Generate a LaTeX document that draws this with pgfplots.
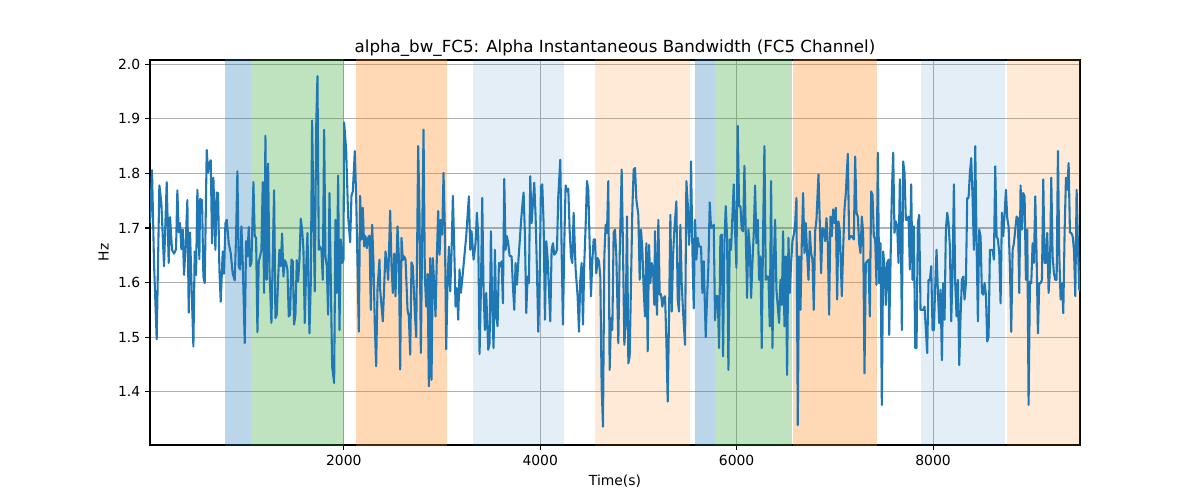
\documentclass[border=0pt]{standalone}
\usepackage{fontspec}
\setmainfont{DejaVu Sans}
\usepackage{pgfplots}
\pgfplotsset{compat=1.18}
\definecolor{tabblue}{HTML}{1F77B4}
\definecolor{tabgreen}{HTML}{2CA02C}
\definecolor{taborange}{HTML}{FF7F0E}
\definecolor{gridgray}{HTML}{B0B0B0}
\begin{document}
\begin{tikzpicture}
\path (0,0) rectangle (864pt,360pt);
\begin{axis}[
  at={(108pt,39.6pt)}, anchor=south west,
  scale only axis, width=669.6pt, height=277.2pt,
  xmin=27, xmax=9496, ymin=1.3025, ymax=2.0077,
  xtick={2000,4000,6000,8000},
  ytick={1.4,1.5,1.6,1.7,1.8,1.9,2.0},
  yticklabel style={/pgf/number format/fixed,/pgf/number format/fixed zerofill,/pgf/number format/precision=1},
  xticklabel style={/pgf/number format/1000 sep={}},
  /pgf/number format/assume math mode=true,
  tick label style={font=\fontsize{10}{12}\selectfont},
  label style={font=\fontsize{10}{12}\selectfont},
  title style={font=\fontsize{12}{14}\selectfont, yshift=-7pt},
  title={alpha\_bw\_FC5: Alpha Instantaneous Bandwidth (FC5 Channel)},
  xlabel={Time(s)}, ylabel={Hz},
  grid=major, major grid style={gridgray, line width=0.8pt},
  tick pos=left, tick align=outside, major tick length=3.5pt,
  tick style={black, line width=0.8pt},
  axis line style={black, line width=0.8pt},
  clip=true,
]
\addplot[draw=none, fill=tabblue, fill opacity=0.3] coordinates {(788,1.2) (1053,1.2) (1053,2.1) (788,2.1)} -- cycle;
\addplot[draw=none, fill=tabgreen, fill opacity=0.3] coordinates {(1053,1.2) (2000,1.2) (2000,2.1) (1053,2.1)} -- cycle;
\addplot[draw=none, fill=taborange, fill opacity=0.3] coordinates {(2129,1.2) (3053,1.2) (3053,2.1) (2129,2.1)} -- cycle;
\addplot[draw=none, fill=tabblue, fill opacity=0.12] coordinates {(3311,1.2) (4245,1.2) (4245,2.1) (3311,2.1)} -- cycle;
\addplot[draw=none, fill=taborange, fill opacity=0.16] coordinates {(4558,1.2) (5522,1.2) (5522,2.1) (4558,2.1)} -- cycle;
\addplot[draw=none, fill=tabblue, fill opacity=0.3] coordinates {(5573,1.2) (5780,1.2) (5780,2.1) (5573,2.1)} -- cycle;
\addplot[draw=none, fill=tabgreen, fill opacity=0.3] coordinates {(5780,1.2) (6568,1.2) (6568,2.1) (5780,2.1)} -- cycle;
\addplot[draw=none, fill=taborange, fill opacity=0.3] coordinates {(6578,1.2) (7424,1.2) (7424,2.1) (6578,2.1)} -- cycle;
\addplot[draw=none, fill=tabblue, fill opacity=0.12] coordinates {(7876,1.2) (8732,1.2) (8732,2.1) (7876,2.1)} -- cycle;
\addplot[draw=none, fill=taborange, fill opacity=0.16] coordinates {(8749,1.2) (9600,1.2) (9600,2.1) (8749,2.1)} -- cycle;
\addplot[tabblue, line width=1.5pt, line join=round, mark=none] table {
x y
27.2 1.709
47.5 1.806
67.9 1.636
95.1 1.496
122.3 1.778
142.6 1.746
169.8 1.630
197.0 1.784
217.3 1.636
230.9 1.720
251.3 1.660
271.7 1.653
292.1 1.661
305.6 1.769
319.2 1.692
332.8 1.709
346.4 1.661
360.0 1.697
373.6 1.614
387.2 1.660
407.5 1.751
421.1 1.545
434.7 1.692
448.3 1.605
468.7 1.483
482.2 1.657
495.8 1.614
509.4 1.770
529.8 1.643
536.6 1.753
556.9 1.751
570.5 1.611
584.1 1.599
604.5 1.843
618.1 1.801
631.7 1.819
645.2 1.824
658.8 1.672
672.4 1.792
692.8 1.660
706.4 1.765
720.0 1.764
733.5 1.624
747.1 1.565
767.5 1.657
781.1 1.616
794.7 1.709
808.3 1.715
828.6 1.672
849.0 1.654
869.4 1.616
889.8 1.604
903.3 1.685
916.9 1.804
930.5 1.630
944.1 1.624
957.7 1.703
971.3 1.636
991.6 1.489
1005.2 1.676
1018.8 1.648
1032.4 1.702
1046.0 1.630
1059.6 1.636
1079.9 1.784
1093.5 1.685
1107.1 1.682
1120.7 1.509
1134.3 1.639
1147.8 1.648
1161.4 1.660
1175.0 1.784
1188.6 1.581
1202.2 1.869
1215.8 1.605
1229.4 1.818
1242.9 1.624
1263.3 1.526
1290.5 1.769
1304.1 1.535
1317.6 1.541
1331.2 1.605
1344.8 1.660
1358.4 1.630
1372.0 1.690
1385.6 1.611
1399.2 1.641
1412.7 1.636
1426.3 1.624
1439.9 1.538
1453.5 1.541
1467.1 1.642
1480.7 1.639
1494.2 1.523
1507.8 1.541
1521.4 1.641
1535.0 1.602
1548.6 1.642
1562.2 1.717
1575.7 1.697
1589.3 1.660
1602.9 1.526
1616.5 1.624
1630.1 1.691
1650.5 1.507
1664.0 1.599
1677.6 1.897
1691.2 1.728
1704.8 1.584
1718.4 1.880
1732.0 1.978
1745.5 1.660
1759.1 1.666
1772.7 1.660
1786.3 1.605
1799.9 1.880
1813.5 1.648
1827.1 1.630
1840.6 1.541
1854.2 1.764
1867.8 1.605
1881.4 1.446
1901.8 1.416
1915.3 1.715
1928.9 1.581
1942.5 1.796
1956.1 1.513
1969.7 1.679
1983.3 1.636
1996.9 1.642
2003.6 1.893
2024.0 1.844
2044.4 1.721
2064.8 1.674
2078.4 1.759
2091.9 1.767
2112.3 1.841
2125.9 1.758
2139.5 1.636
2153.1 1.510
2166.7 1.759
2180.2 1.679
2193.8 1.737
2207.4 1.666
2221.0 1.685
2234.6 1.663
2248.2 1.682
2261.7 1.686
2275.3 1.550
2288.9 1.706
2302.5 1.636
2316.1 1.520
2329.7 1.447
2343.2 1.587
2363.6 1.642
2370.5 1.587
2397.6 1.529
2424.8 1.657
2438.4 1.636
2452.0 1.605
2472.4 1.732
2486.0 1.630
2499.5 1.581
2513.1 1.653
2526.7 1.575
2547.1 1.703
2560.6 1.648
2574.2 1.441
2587.8 1.682
2601.4 1.641
2615.0 1.648
2628.6 1.642
2648.9 1.550
2662.5 1.538
2676.1 1.468
2689.7 1.637
2703.3 1.630
2723.7 1.544
2737.2 1.500
2757.6 1.850
2771.2 1.721
2784.8 1.471
2798.4 1.685
2811.9 1.880
2825.5 1.611
2839.1 1.556
2852.7 1.616
2866.3 1.410
2879.9 1.645
2893.5 1.422
2907.0 1.645
2920.6 1.596
2934.2 1.538
2947.8 1.649
2961.4 1.731
2975.0 1.651
2988.5 1.715
3002.1 1.688
3015.7 1.801
3029.3 1.697
3042.9 1.478
3056.5 1.599
3070.0 1.666
3083.6 1.584
3097.2 1.654
3110.8 1.759
3124.4 1.666
3138.0 1.556
3151.6 1.590
3165.1 1.532
3178.7 1.624
3192.3 1.581
3205.9 1.605
3246.6 1.685
3273.8 1.758
3287.4 1.660
3301.0 1.694
3321.4 1.642
3341.7 1.672
3355.3 1.728
3368.9 1.685
3382.5 1.469
3396.1 1.587
3409.6 1.755
3423.2 1.587
3436.8 1.513
3450.4 1.581
3470.8 1.477
3484.4 1.489
3497.9 1.694
3511.5 1.556
3525.1 1.480
3538.7 1.660
3552.3 1.538
3565.9 1.520
3579.4 1.636
3593.0 1.630
3606.6 1.639
3620.2 1.562
3633.8 1.790
3647.4 1.660
3660.9 1.685
3674.5 1.672
3688.1 1.649
3708.5 1.648
3722.1 1.593
3735.7 1.550
3749.2 1.636
3762.8 1.596
3776.4 1.636
3790.0 1.672
3803.6 1.709
3817.2 1.740
3830.8 1.765
3844.3 1.688
3857.9 1.544
3871.5 1.611
3885.1 1.599
3898.7 1.795
3912.3 1.709
3925.8 1.746
3939.4 1.783
3953.0 1.721
3966.6 1.624
3980.2 1.510
3993.8 1.599
4007.3 1.776
4020.9 1.780
4034.5 1.709
4048.1 1.532
4061.7 1.676
4075.3 1.645
4088.8 1.587
4102.4 1.529
4116.0 1.660
4129.6 1.672
4143.2 1.651
4156.8 1.654
4170.4 1.660
4183.9 1.758
4204.3 1.825
4217.9 1.660
4231.5 1.523
4245.1 1.672
4258.6 1.778
4272.2 1.767
4285.8 1.772
4299.4 1.697
4313.0 1.648
4326.6 1.636
4340.2 1.728
4360.5 1.624
4380.9 1.575
4394.5 1.510
4408.1 1.605
4421.7 1.636
4435.2 1.523
4448.8 1.636
4462.4 1.703
4476.0 1.786
4489.6 1.770
4503.2 1.672
4516.7 1.575
4530.3 1.639
4543.9 1.679
4557.5 1.679
4571.1 1.617
4584.7 1.645
4598.2 1.639
4611.8 1.611
4625.4 1.410
4639.0 1.336
4652.6 1.648
4666.2 1.706
4679.7 1.691
4693.3 1.786
4706.9 1.440
4720.7 1.535
4734.2 1.513
4747.8 1.692
4761.4 1.697
4775.0 1.648
4795.4 1.489
4809.0 1.648
4829.3 1.807
4842.9 1.660
4856.5 1.486
4870.1 1.526
4883.7 1.721
4897.3 1.452
4910.8 1.465
4924.4 1.599
4938.0 1.734
4951.6 1.807
4965.2 1.810
4978.8 1.752
4999.1 1.724
5012.7 1.605
5026.3 1.697
5039.9 1.660
5053.5 1.587
5067.1 1.538
5080.6 1.672
5094.2 1.474
5107.8 1.669
5121.4 1.599
5135.0 1.636
5148.6 1.624
5162.1 1.559
5168.9 1.694
5182.5 1.575
5189.3 1.541
5202.9 1.715
5216.5 1.578
5230.1 1.579
5243.6 1.556
5257.2 1.572
5270.8 1.575
5284.4 1.495
5298.0 1.382
5311.6 1.538
5325.2 1.724
5338.7 1.547
5352.3 1.648
5365.9 1.697
5386.3 1.749
5399.9 1.569
5413.4 1.547
5427.0 1.706
5440.6 1.599
5454.2 1.547
5474.6 1.486
5488.2 1.786
5501.7 1.746
5515.3 1.669
5528.9 1.715
5535.7 1.822
5549.3 1.660
5562.9 1.553
5576.5 1.715
5590.0 1.642
5603.6 1.682
5617.2 1.666
5637.6 1.666
5651.2 1.581
5664.8 1.639
5685.1 1.500
5698.7 1.572
5712.3 1.630
5725.9 1.747
5739.5 1.700
5753.0 1.703
5766.6 1.706
5780.2 1.531
5793.8 1.575
5807.4 1.575
5821.0 1.480
5834.6 1.685
5848.1 1.688
5861.7 1.465
5875.3 1.672
5888.9 1.740
5902.5 1.682
5916.1 1.440
5929.6 1.679
5943.2 1.660
5956.8 1.721
5970.4 1.780
5984.0 1.694
5997.6 1.627
6011.1 1.887
6024.7 1.740
6038.3 1.740
6051.9 1.697
6065.5 1.694
6079.1 1.814
6092.6 1.691
6106.2 1.572
6119.8 1.697
6133.4 1.666
6147.0 1.572
6160.6 1.636
6174.2 1.691
6187.7 1.778
6201.3 1.672
6214.9 1.715
6228.5 1.605
6242.1 1.648
6255.7 1.480
6269.2 1.691
6282.8 1.850
6296.4 1.605
6310.0 1.611
6323.6 1.611
6337.2 1.520
6350.7 1.786
6364.3 1.480
6377.9 1.636
6391.5 1.715
6405.1 1.587
6418.7 1.556
6432.2 1.526
6445.8 1.605
6459.4 1.559
6473.0 1.694
6486.6 1.520
6500.2 1.648
6513.8 1.431
6527.3 1.682
6540.9 1.581
6554.5 1.636
6568.1 1.676
6581.7 1.688
6595.3 1.706
6608.8 1.755
6622.4 1.339
6636.0 1.648
6649.6 1.550
6663.2 1.672
6676.8 1.764
6690.3 1.654
6703.9 1.709
6717.5 1.654
6731.1 1.605
6744.7 1.694
6758.3 1.654
6771.8 1.642
6785.4 1.550
6799.0 1.694
6812.6 1.715
6833.0 1.798
6846.6 1.709
6860.1 1.617
6873.7 1.700
6887.3 1.697
6900.9 1.676
6914.5 1.718
6928.1 1.672
6941.6 1.541
6955.2 1.721
6968.8 1.685
6982.4 1.734
6996.0 1.709
7009.6 1.737
7023.2 1.569
7036.7 1.712
7050.3 1.694
7070.8 1.575
7084.3 1.660
7097.9 1.734
7111.5 1.764
7131.9 1.836
7145.5 1.679
7159.1 1.685
7172.6 1.685
7193.0 1.679
7206.6 1.831
7220.2 1.728
7233.8 1.721
7247.3 1.672
7260.9 1.654
7274.5 1.721
7288.1 1.691
7301.7 1.434
7315.3 1.636
7328.9 1.639
7342.4 1.642
7356.0 1.538
7369.6 1.767
7383.2 1.761
7396.8 1.685
7410.4 1.679
7423.9 1.596
7437.5 1.838
7451.1 1.599
7464.7 1.672
7478.3 1.376
7491.9 1.657
7505.4 1.630
7519.0 1.559
7532.6 1.636
7546.2 1.642
7553.0 1.504
7566.6 1.636
7580.2 1.764
7593.7 1.838
7607.3 1.691
7620.9 1.712
7634.5 1.703
7648.1 1.636
7661.7 1.789
7675.2 1.636
7682.0 1.513
7695.6 1.822
7709.2 1.801
7722.8 1.715
7736.4 1.715
7749.9 1.721
7763.5 1.624
7777.1 1.780
7790.7 1.605
7804.3 1.703
7817.9 1.480
7831.5 1.480
7845.0 1.709
7858.6 1.724
7872.2 1.550
7885.8 1.550
7899.4 1.550
7913.0 1.556
7926.5 1.513
7940.1 1.471
7953.7 1.605
7967.3 1.605
7980.9 1.630
7994.5 1.513
8008.1 1.513
8021.6 1.593
8035.2 1.660
8048.8 1.584
8062.4 1.526
8076.0 1.587
8089.6 1.458
8103.1 1.599
8116.7 1.532
8130.3 1.697
8143.9 1.728
8157.5 1.709
8171.1 1.666
8184.6 1.529
8198.2 1.614
8211.8 1.780
8225.4 1.599
8239.0 1.538
8252.6 1.605
8266.2 1.449
8279.7 1.538
8293.3 1.605
8306.9 1.611
8320.5 1.569
8334.1 1.599
8347.7 1.755
8361.2 1.755
8374.8 1.801
8388.4 1.828
8402.0 1.755
8415.6 1.660
8429.2 1.850
8442.7 1.672
8456.3 1.529
8469.9 1.697
8483.5 1.685
8497.1 1.581
8510.7 1.578
8524.2 1.599
8537.8 1.578
8551.4 1.492
8565.0 1.501
8578.6 1.660
8592.2 1.660
8605.7 1.660
8619.3 1.642
8632.9 1.813
8646.5 1.685
8660.1 1.679
8673.7 1.654
8687.3 1.562
8700.8 1.728
8714.4 1.685
8728.0 1.724
8741.6 1.770
8755.2 1.718
8768.8 1.703
8782.3 1.630
8795.9 1.510
8809.5 1.660
8823.1 1.672
8836.7 1.697
8850.3 1.721
8863.8 1.718
8877.4 1.581
8891.0 1.778
8904.6 1.697
8918.2 1.764
8931.8 1.758
8945.3 1.605
8958.9 1.697
8972.5 1.376
8986.1 1.602
8999.7 1.599
9013.3 1.672
9026.9 1.636
9040.4 1.758
9054.0 1.648
9067.6 1.507
9081.2 1.599
9094.8 1.599
9108.4 1.605
9121.9 1.789
9135.5 1.636
9149.1 1.636
9162.7 1.691
9176.3 1.581
9189.9 1.624
9203.4 1.792
9217.0 1.648
9230.6 1.617
9244.2 1.605
9257.8 1.605
9271.4 1.841
9285.0 1.648
9298.5 1.569
9312.1 1.599
9325.7 1.544
9339.3 1.694
9352.9 1.792
9366.5 1.770
9380.0 1.819
9393.6 1.691
9407.2 1.691
9420.8 1.685
9434.4 1.660
9448.0 1.575
9461.5 1.770
9475.1 1.666
9488.7 1.587
9496.0 1.585
};
\end{axis}
\end{tikzpicture}
\end{document}
